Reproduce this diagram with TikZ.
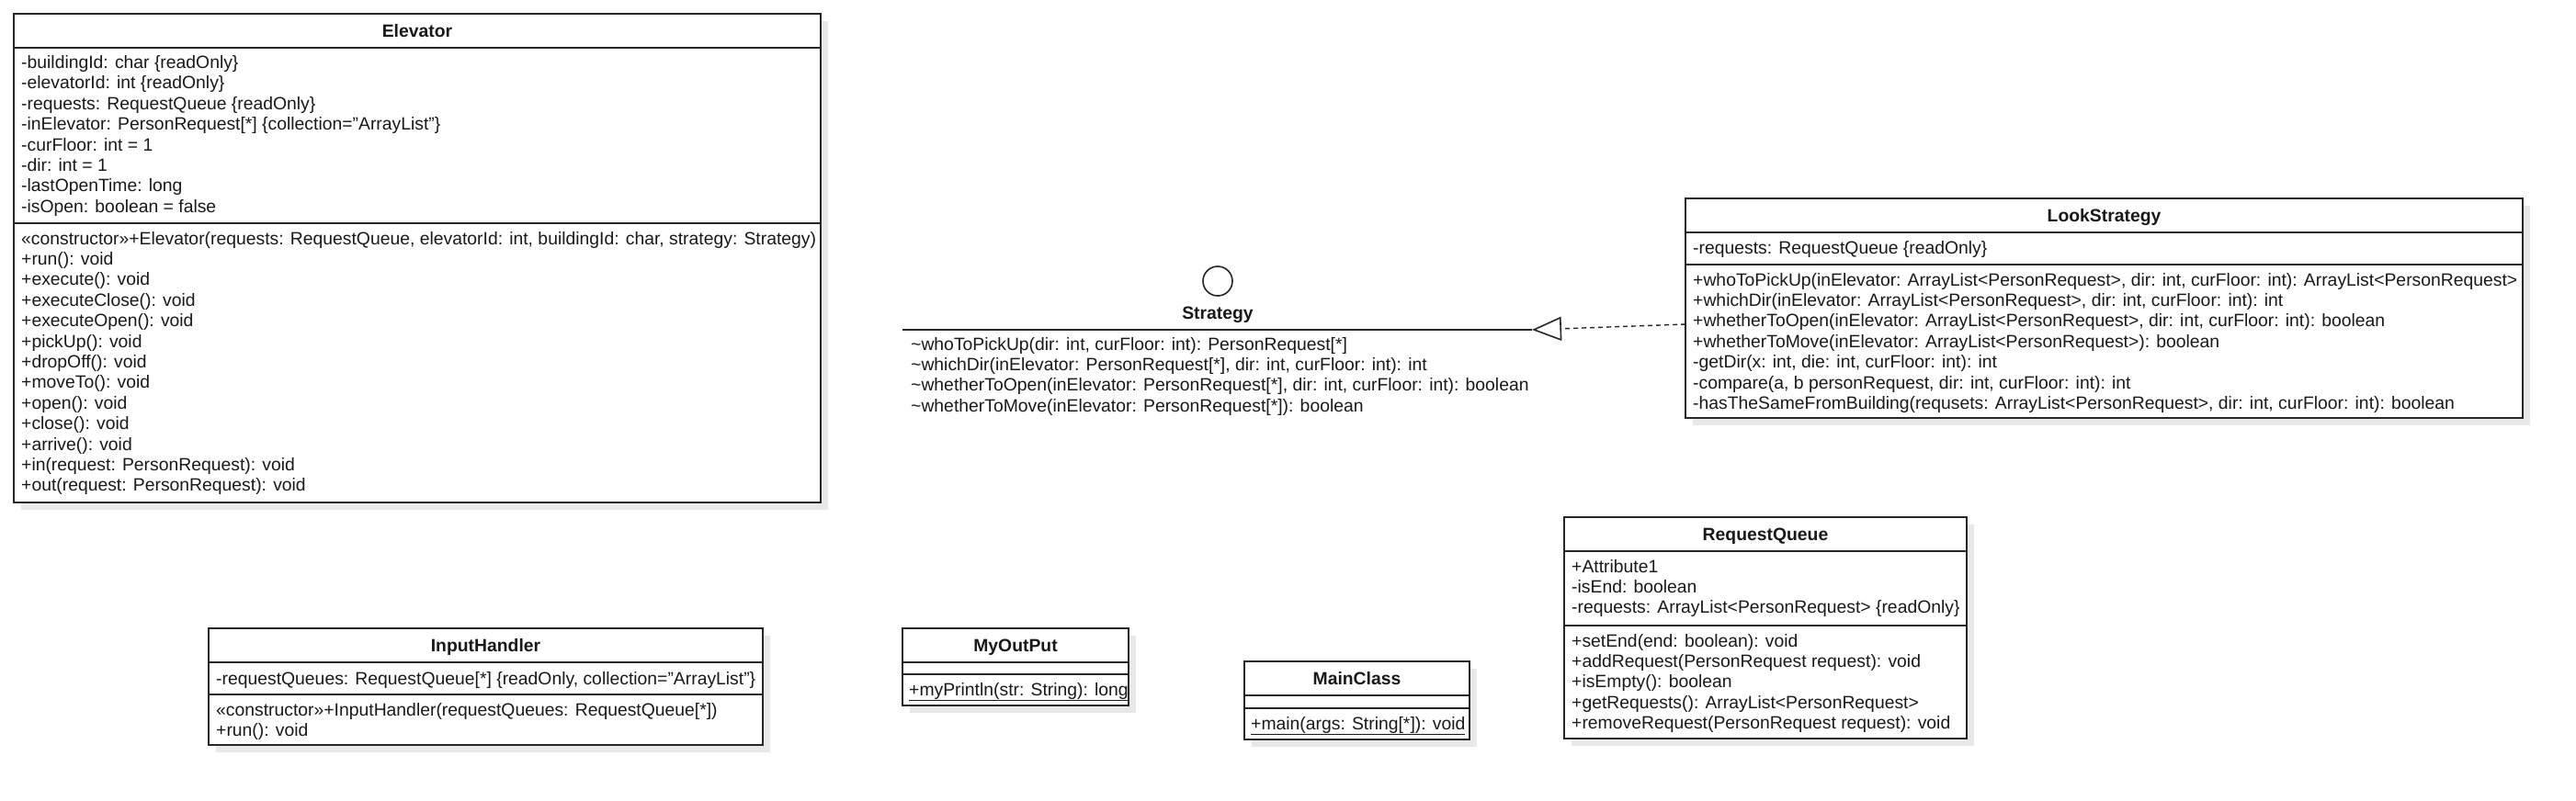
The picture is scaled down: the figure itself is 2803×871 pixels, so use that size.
\documentclass[tikz,border=0pt]{standalone}
\usepackage{fontspec}
\setmainfont{Liberation Sans}
\usetikzlibrary{arrows.meta,calc}
\newcommand\fs{\fontsize{19.35}{22.4}\selectfont}
\tikzset{
  box/.style={draw=black!85, line width=1.6pt, fill=white, inner sep=0pt, outer sep=0pt, anchor=north west},
  shad/.style={fill=black!9, draw=none, inner sep=0pt, outer sep=0pt, anchor=north west},
  sepline/.style={draw=black!85, line width=1.6pt},
  txt/.style={anchor=base west, inner sep=0pt, font=\fs, text=black!90},
  ttl/.style={anchor=base, inner sep=0pt, font=\fs\bfseries, text=black!90},
  realize/.style={draw=black!85, line width=1.4pt, dashed, dash pattern=on 5pt off 4pt,
    -{Triangle[open, length=32pt, width=26pt, line width=1.6pt]}}
}
% name, x, y, w, h, title
\newcommand\umlclass[6]{%
  \node[shad, minimum width=#4, minimum height=#5] (#1-sh) at (#2+8,#3+8) {};
  \node[box, minimum width=#4, minimum height=#5] (#1) at (#2,#3) {};
  \node[ttl] (#1-t) at (#2+#4/2,#3+25) {#6};
  \draw[sepline] (#2,#3+37) -- (#2+#4,#3+37);
}
% prefix, x, first baseline, list
\newcommand\umllines[4]{%
  \foreach \t [count=\i] in {#4} {\node[txt] (#1-\i) at (#2,#3+22.4*\i-22.4) {\t};}
}
\begin{document}
\begin{tikzpicture}[x=1pt,y=-1pt]
\useasboundingbox[fill=white] (0,0) rectangle (2803,871);

% Elevator
\umlclass{elev}{15}{15}{878}{532}{Elevator}
\draw[sepline] (15,243) -- (893,243);
\umllines{elev-a}{23}{74.5}{{-buildingId: char \{readOnly\}},{-elevatorId: int \{readOnly\}},{-requests: RequestQueue \{readOnly\}},{-inElevator: PersonRequest[*] \{collection="ArrayList"\}},{-curFloor: int = 1},{-dir: int = 1},{-lastOpenTime: long},{-isOpen: boolean = false}}
\umllines{elev-m}{23}{266}{{«constructor»+Elevator(requests: RequestQueue, elevatorId: int, buildingId: char, strategy: Strategy)},{+run(): void},{+execute(): void},{+executeClose(): void},{+executeOpen(): void},{+pickUp(): void},{+dropOff(): void},{+moveTo(): void},{+open(): void},{+close(): void},{+arrive(): void},{+in(request: PersonRequest): void},{+out(request: PersonRequest): void}}

% Strategy (interface)
\node[draw=black!85, line width=1.6pt, circle, minimum size=32pt, inner sep=0pt, fill=white] (strat-c) at (1325,306) {};
\node[ttl] (strat-t) at (1325,347) {Strategy};
\coordinate (strat-l) at (982,359);
\coordinate (strat-r) at (1667,359);
\draw[sepline] (strat-l) -- (strat-r);
\umllines{strat-m}{991}{381}{{\textasciitilde whoToPickUp(dir: int, curFloor: int): PersonRequest[*]},{\textasciitilde whichDir(inElevator: PersonRequest[*], dir: int, curFloor: int): int},{\textasciitilde whetherToOpen(inElevator: PersonRequest[*], dir: int, curFloor: int): boolean},{\textasciitilde whetherToMove(inElevator: PersonRequest[*]): boolean}}

% LookStrategy
\umlclass{look}{1834}{216}{911}{239}{LookStrategy}
\draw[sepline] (1834,288) -- (2745,288);
\umllines{look-a}{1842}{276}{{-requests: RequestQueue \{readOnly\}}}
\umllines{look-m}{1842}{311}{{+whoToPickUp(inElevator: ArrayList<PersonRequest>, dir: int, curFloor: int): ArrayList<PersonRequest>},{+whichDir(inElevator: ArrayList<PersonRequest>, dir: int, curFloor: int): int},{+whetherToOpen(inElevator: ArrayList<PersonRequest>, dir: int, curFloor: int): boolean},{+whetherToMove(inElevator: ArrayList<PersonRequest>): boolean},{-getDir(x: int, die: int, curFloor: int): int},{-compare(a, b personRequest, dir: int, curFloor: int): int},{-hasTheSameFromBuilding(requsets: ArrayList<PersonRequest>, dir: int, curFloor: int): boolean}}

% realization
\draw[realize] ($(look.north west)+(0,137)$) -- (strat-r);

% RequestQueue
\umlclass{rq}{1702}{563}{438}{241}{RequestQueue}
\draw[sepline] (1702,681) -- (2140,681);
\umllines{rq-a}{1710}{623}{{+Attribute1},{-isEnd: boolean},{-requests: ArrayList<PersonRequest> \{readOnly\}}}
\umllines{rq-m}{1710}{704}{{+setEnd(end: boolean): void},{+addRequest(PersonRequest request): void},{+isEmpty(): boolean},{+getRequests(): ArrayList<PersonRequest>},{+removeRequest(PersonRequest request): void}}

% InputHandler
\umlclass{ih}{227}{684}{603}{127}{InputHandler}
\draw[sepline] (227,756) -- (830,756);
\umllines{ih-a}{235}{745}{{-requestQueues: RequestQueue[*] \{readOnly, collection="ArrayList"\}}}
\umllines{ih-m}{235}{779}{{«constructor»+InputHandler(requestQueues: RequestQueue[*])},{+run(): void}}

% MyOutPut
\umlclass{mo}{982}{684}{246}{84}{MyOutPut}
\draw[sepline] (982,734) -- (1228,734);
\umllines{mo-m}{989}{757}{{\underline{+myPrintln(str: String): long}}}

% MainClass
\umlclass{mc}{1354}{720}{245}{85}{MainClass}
\draw[sepline] (1354,771) -- (1599,771);
\umllines{mc-m}{1361}{794}{{\underline{+main(args: String[*]): void}}}
\end{tikzpicture}
\end{document}
